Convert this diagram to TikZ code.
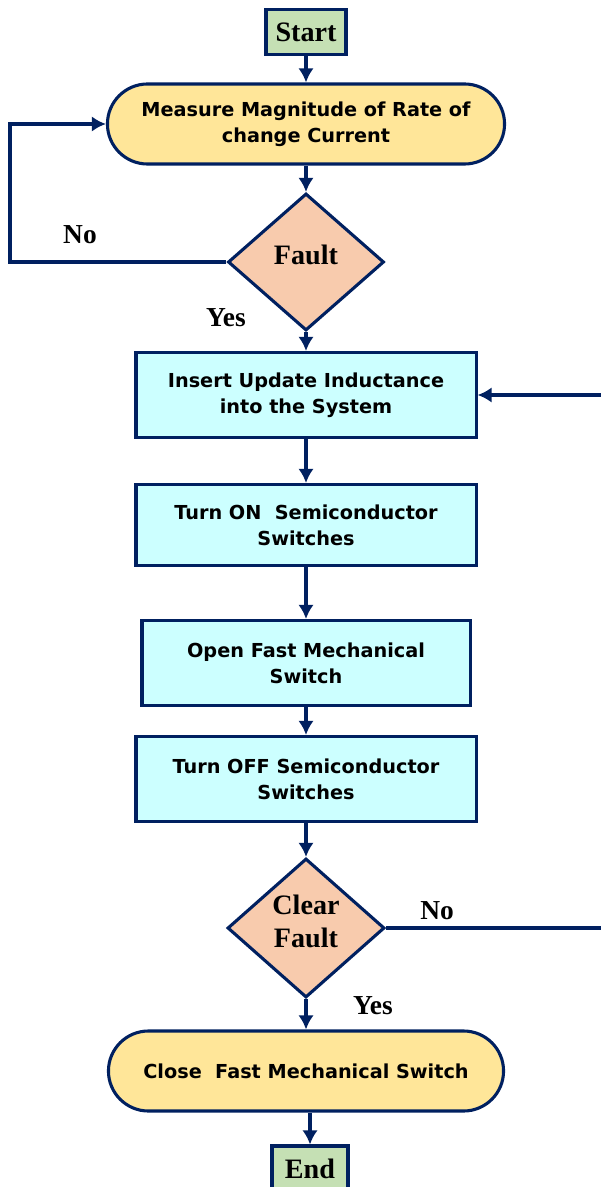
\documentclass[tikz,border=0pt]{standalone}
\usepackage{fontspec}
\setmainfont{Liberation Serif}
\newfontfamily\boxfont{DejaVu Sans}
\usepackage{tikz}
\usetikzlibrary{shapes.geometric,arrows.meta}
\definecolor{navy}{RGB}{0,32,96}
\definecolor{termgreen}{RGB}{197,224,180}
\definecolor{pillyellow}{RGB}{255,230,153}
\definecolor{testsalmon}{RGB}{248,203,173}
\definecolor{proccyan}{RGB}{204,255,255}
\tikzset{
	term/.style={draw=navy,line width=2.2pt,fill=termgreen,inner sep=0pt,font=\fontsize{20}{22}\selectfont\bfseries},
	pill/.style={draw=navy,line width=2.2pt,fill=pillyellow,rounded corners=1cm,align=center,inner sep=0pt,font=\boxfont\fontsize{13.7}{18.5}\selectfont\bfseries},
	proc/.style={draw=navy,line width=2.2pt,fill=proccyan,align=center,inner sep=0pt,font=\boxfont\fontsize{13.7}{18.5}\selectfont\bfseries},
	test/.style={diamond,draw=navy,line width=2.2pt,fill=testsalmon,inner sep=0pt,aspect=1.14,align=center,text depth=10pt,font=\fontsize{20}{23.5}\selectfont\bfseries},
	lbl/.style={font=\fontsize{19.5}{22}\selectfont\bfseries},
	arr/.style={navy,line width=2.2pt,-{Latex[length=10pt,width=11pt]}}
}
\begin{document}
\begin{tikzpicture}[x=0.025cm,y=-0.025cm]
						\useasboundingbox (0,0) rectangle (600,1187);

						\node [term,minimum width=2cm,minimum height=1.125cm] (start) at (306,32) {Start};
						\node [pill,minimum width=9.925cm,minimum height=2cm] (measure) at (306,124) {Measure Magnitude of Rate of\\change Current};
						\node [test,minimum width=3.9cm,minimum height=3.425cm] (fault) at (306,262) {Fault};
						\node [proc,minimum width=8.5cm,minimum height=2.125cm] (insert) at (306,395) {Insert Update Inductance\\into the System};
						\node [proc,minimum width=8.5cm,minimum height=2.025cm] (turnon) at (306,525) {Turn ON\ \ Semiconductor\\Switches};
						\node [proc,minimum width=8.2cm,minimum height=2.125cm] (openfms) at (306,663) {Open Fast Mechanical\\Switch};
						\node [proc,minimum width=8.5cm,minimum height=2.125cm] (turnoff) at (306,779) {Turn OFF Semiconductor\\Switches};
						\node [test,minimum width=3.925cm,minimum height=3.475cm] (clear) at (306,928) {Clear\\Fault};
						\node [pill,minimum width=9.875cm,minimum height=2cm] (closefms) at (306,1071) {Close\ \ Fast Mechanical Switch};
						\node [term,minimum width=1.9cm,minimum height=1.15cm] (end) at (310,1169) {End};

						% yes/no labels
						\node [lbl] (no1) at (80,235) {No};
						\node [lbl] (yes1) at (226,318) {Yes};
						\node [lbl] (no2) at (437,911) {No};
						\node [lbl] (yes2) at (373,1006) {Yes};

						% loop corners
						\coordinate (lp) at (10,262);
						\coordinate (rp) at (604,928);

						\draw [arr] (start) -- (measure);
						\draw [arr] (measure) -- (fault);
						\draw [arr] (fault.west) -- (lp) |- (measure.west);
						\draw [arr] (fault) -- (insert);
						\draw [arr] (insert) -- (turnon);
						\draw [arr] (turnon) -- (openfms);
						\draw [arr] (openfms) -- (turnoff);
						\draw [arr] (turnoff) -- (clear);
						\draw [arr] (clear.east) -- (rp) |- (insert.east);
						\draw [arr] (clear) -- (closefms);
						\draw [arr] (closefms.south -| end) -- (end);
					\end{tikzpicture}
\end{document}
